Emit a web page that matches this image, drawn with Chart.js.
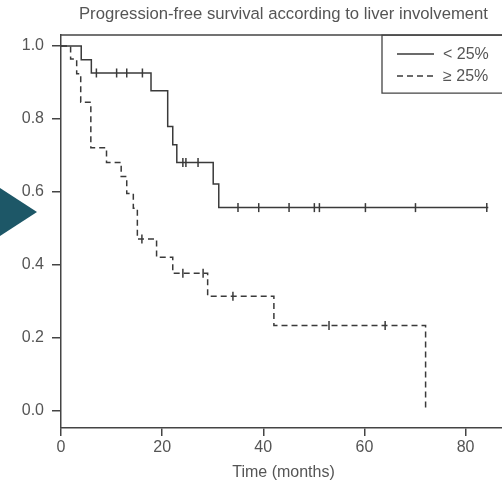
<!DOCTYPE html>
<html><head><meta charset="utf-8">
<script src="https://cdn.jsdelivr.net/npm/chart.js@4"></script>
<style>
html,body{margin:0;padding:0;overflow:hidden;background:#fff;width:502px;height:487px}
#wrap{position:relative;width:512px;height:487px}
</style></head>
<body><div id="wrap"><canvas id="c"></canvas></div>
<script>
const chartTitle = 'Progression-free survival according to liver involvement';
const xTitle = 'Time (months)';
const seriesLabels = ['< 25%', '\u2265 25%'];
const xTicks = [0, 20, 40, 60, 80];
const yTicks = [0.0, 0.2, 0.4, 0.6, 0.8, 1.0];

// < 25% liver involvement (solid)
const lowTimes = [0, 4.0, 6.0, 17.8, 21.1, 22.1, 22.9, 30.1, 31.2, 84.5];
const lowSurv  = [1, 0.962, 0.926, 0.877, 0.779, 0.729, 0.681, 0.622, 0.557, 0.557];
const lowCensorTimes = [7.0, 11.0, 13.0, 16.1, 24.1, 24.7, 27.1, 35.0, 39.1, 45.1, 50.1, 51.1, 60.2, 70.1, 84.2];
const lowCensorSurv  = [0.926, 0.926, 0.926, 0.926, 0.681, 0.681, 0.681, 0.557, 0.557, 0.557, 0.557, 0.557, 0.557, 0.557, 0.557];

// >= 25% liver involvement (dashed)
const highTimes = [0, 1.9, 3.1, 3.9, 5.9, 9.0, 11.9, 13.0, 14.3, 15.1, 18.9, 22.1, 29.0, 42.1, 72.1];
const highSurv  = [1, 0.964, 0.924, 0.846, 0.721, 0.681, 0.642, 0.596, 0.555, 0.471, 0.421, 0.377, 0.314, 0.234, 0.0];
const highCensorTimes = [16.0, 24.1, 28.1, 34.0, 53.0, 64.1];
const highCensorSurv  = [0.471, 0.377, 0.377, 0.314, 0.234, 0.234];

const ink = '#3a3a3a';
const textCol = '#555555';
const FONT = "'Liberation Sans', Arial, sans-serif";

const pts = (xs, ys) => xs.map((x, i) => ({x, y: ys[i]}));

const overlay = {
  id: 'overlay',
  beforeDraw(chart) {
    const ctx = chart.ctx;
    ctx.save();
    ctx.fillStyle = '#1d5767';
    ctx.beginPath();
    ctx.moveTo(0, 188); ctx.lineTo(37, 212); ctx.lineTo(0, 236); ctx.closePath();
    ctx.fill();
    ctx.restore();
  },
  afterDraw(chart) {
    const {ctx, chartArea: a} = chart;
    ctx.save();
    ctx.strokeStyle = '#444';
    ctx.lineWidth = 1.5;
    ctx.beginPath(); ctx.moveTo(a.left, a.top); ctx.lineTo(a.right + 2, a.top); ctx.stroke();
    // legend box
    const bx = 382, by = a.top, bh = 58;
    ctx.lineWidth = 1.3;
    ctx.beginPath();
    ctx.moveTo(a.right + 5, by); ctx.lineTo(bx, by); ctx.lineTo(bx, by + bh); ctx.lineTo(a.right + 5, by + bh);
    ctx.stroke();
    const rows = [by + 19, by + 41];
    [0, 1].forEach(i => {
      const ds = chart.data.datasets[i];
      ctx.strokeStyle = ink;
      ctx.lineWidth = 1.5;
      ctx.setLineDash(ds.borderDash || []);
      ctx.beginPath(); ctx.moveTo(397, rows[i]); ctx.lineTo(434, rows[i]); ctx.stroke();
      ctx.setLineDash([]);
      ctx.fillStyle = textCol;
      ctx.font = '16px ' + FONT;
      ctx.textBaseline = 'middle';
      ctx.textAlign = 'left';
      ctx.fillText(ds.label, 443, rows[i] + 1);
    });
    ctx.restore();
  }
};

new Chart(document.getElementById('c'), {
  data: {
    datasets: [
      {type: 'line', label: seriesLabels[0], data: pts(lowTimes, lowSurv), stepped: 'before',
       borderColor: ink, borderWidth: 1.5, pointRadius: 0, fill: false},
      {type: 'line', label: seriesLabels[1], data: pts(highTimes, highSurv), stepped: 'before',
       borderColor: ink, borderWidth: 1.5, borderDash: [6, 4], pointRadius: 0, fill: false},
      {type: 'scatter', label: 'censored <25', data: pts(lowCensorTimes, lowCensorSurv),
       pointStyle: 'line', rotation: 90, radius: 4.5, borderColor: ink, borderWidth: 1.5, showLine: false},
      {type: 'scatter', label: 'censored >=25', data: pts(highCensorTimes, highCensorSurv),
       pointStyle: 'line', rotation: 90, radius: 4.5, borderColor: ink, borderWidth: 1.5, showLine: false}
    ]
  },
  options: {
    responsive: true,
    maintainAspectRatio: false,
    animation: false,
    layout: {padding: 0},
    plugins: {
      legend: {display: false},
      tooltip: {enabled: false},
      title: {display: true, text: chartTitle, fullSize: false, color: textCol,
              font: {family: FONT, size: 16.7, weight: 'normal'}, padding: {top: 4, bottom: 11}}
    },
    scales: {
      x: {
        type: 'linear', min: 0, max: 88,
        afterFit(s) { s.height = 59; },
        afterBuildTicks(s) { s.ticks = xTicks.map(v => ({value: v})); },
        grid: {drawOnChartArea: false, drawTicks: true, tickLength: 8, color: '#444', lineWidth: 1.5},
        border: {display: true, color: '#444', width: 1.5},
        ticks: {color: textCol, font: {family: FONT, size: 16}, padding: 2, maxRotation: 0},
        title: {display: true, text: xTitle, color: textCol, font: {family: FONT, size: 16}, padding: {top: 0, bottom: 5}}
      },
      y: {
        type: 'linear', min: -0.047, max: 1.03,
        afterFit(s) { s.width = 61; },
        afterBuildTicks(s) { s.ticks = yTicks.map(v => ({value: v})); },
        grid: {drawOnChartArea: false, drawTicks: true, tickLength: 9, color: '#444', lineWidth: 1.5},
        border: {display: true, color: '#444', width: 1.5},
        ticks: {color: textCol, font: {family: FONT, size: 16}, padding: 8, callback: v => v.toFixed(1)}
      }
    }
  },
  plugins: [overlay]
});
</script>
</body></html>
